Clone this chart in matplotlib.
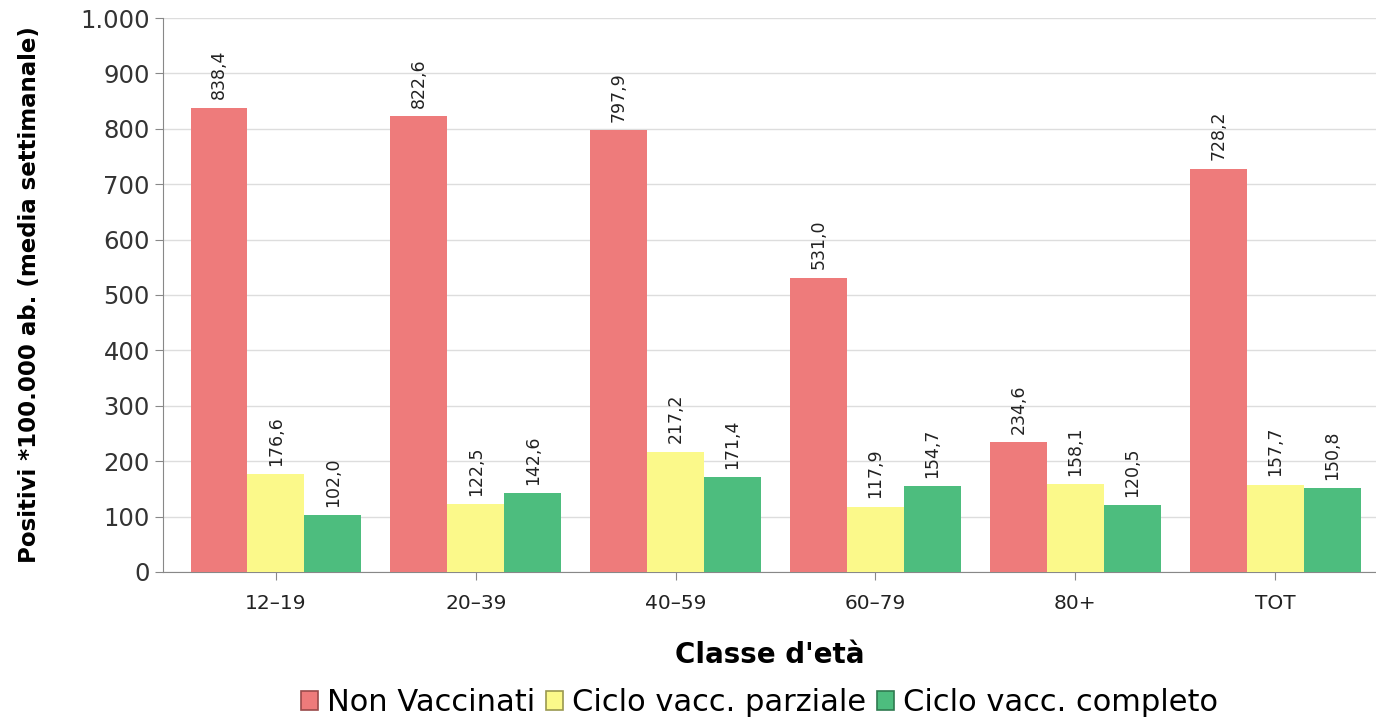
import matplotlib.pyplot as plt
import numpy as np
from matplotlib.ticker import FuncFormatter

categories = ['12-19', '20-39', '40-59', '60-79', '80+', 'TOT']
non_vacc = [838.4, 822.6, 797.9, 531.0, 234.6, 728.2]
parziale = [176.6, 122.5, 217.2, 117.9, 158.1, 157.7]
completo = [102.0, 142.6, 171.4, 154.7, 120.5, 150.8]
series_names = ['Non Vaccinati', 'Ciclo vacc. parziale', 'Ciclo vacc. completo']
colors = ['#EE7B7B', '#FBF98A', '#4DBD7E']
edges = ['#9a4a4a', '#9a9850', '#2f7a50']

fig = plt.figure(figsize=(13.76, 7.23), dpi=100)
ax = fig.add_axes([0.1185, 0.209, 0.8815, 0.766])

x = np.arange(len(categories))
w = 0.285
all_series = [non_vacc, parziale, completo]
handles = []
for i, (vals, name, col) in enumerate(zip(all_series, series_names, colors)):
    bars = ax.bar(x + (i - 1) * w, vals, w, color=col, zorder=3)
    for b, v in zip(bars, vals):
        ax.annotate(f'{v:.1f}'.replace('.', ','),
                    (b.get_x() + b.get_width() / 2, v),
                    xytext=(0, 6), textcoords='offset points',
                    rotation=90, ha='center', va='bottom',
                    fontsize=12.5, color='#222222')
    handles.append(plt.Rectangle((0, 0), 1, 1, facecolor=col,
                                 edgecolor=edges[i], linewidth=1.2, label=name))

ax.set_ylim(0, 1000)
ax.set_xlim(-0.565, 5.505)
ax.set_yticks(range(0, 1001, 100))
ax.yaxis.set_major_formatter(FuncFormatter(lambda v, p: f'{int(v):,}'.replace(',', '.')))
ax.set_xticks(x)
ax.set_xticklabels([c.replace('-', '\u2013') for c in categories], fontsize=14.5)
ax.tick_params(axis='y', labelsize=17.5, length=6, color='#888888', labelcolor='#333333')
ax.tick_params(axis='x', length=6, color='#888888', labelcolor='#222222', pad=10)
ax.grid(axis='y', color='#dddddd', linewidth=1, zorder=0)
for s in ['top', 'right']:
    ax.spines[s].set_visible(False)
for s in ['left', 'bottom']:
    ax.spines[s].set_color('#888888')

ax.set_ylabel('Positivi *100.000 ab. (media settimanale)', fontsize=16.5,
              fontweight='bold', labelpad=28)
ax.set_xlabel("Classe d'età", fontsize=20, fontweight='bold',
              family='Liberation Sans Narrow', labelpad=20)

fig.legend(handles=handles, loc='lower center', bbox_to_anchor=(0.552, -0.03), ncol=3,
           frameon=False, handlelength=0.55, handleheight=0.55, handletextpad=0.3,
           columnspacing=0.35, prop={'family': 'DejaVu Sans', 'size': 22})

fig.savefig('out.png', dpi=100)
